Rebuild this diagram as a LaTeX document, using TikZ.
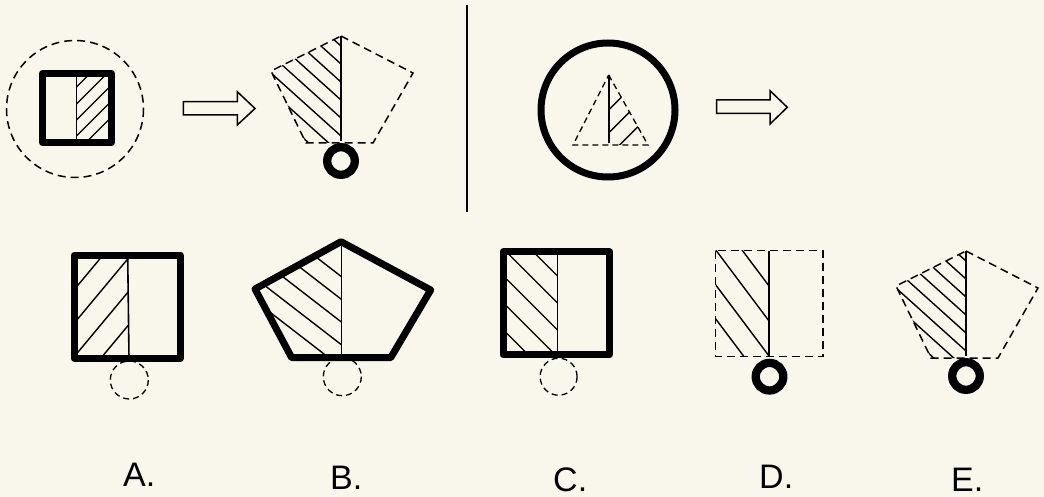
\documentclass[tikz,border=0pt]{standalone}
\usepackage{fontspec}
\setmainfont{Liberation Sans}
\definecolor{paper}{RGB}{249,247,235}
\begin{document}
\begin{tikzpicture}[x=1pt, y=-1pt,
    thickline/.style={line width=7pt, line join=round},
    dashline/.style={line width=1.5pt, dash pattern=on 8pt off 5pt},
    smalldash/.style={line width=1.3pt, dash pattern=on 6pt off 4pt},
    hatch/.style={line width=1.4pt},
    midline/.style={line width=1.6pt},
    ring/.style={line width=8.3pt},
    blockarrow/.style={line width=1.5pt, line join=miter},
    lbl/.style={anchor=base west, inner sep=0pt, text depth=0pt, font=\fontsize{34}{40}\selectfont}]

  % background
  \fill[paper] (0,0) rectangle (1044,497);
  \useasboundingbox (0,0) rectangle (1044,497);

  % top left: square in dashed circle
  \draw[dashline] (75,109) circle (68.5);
  \begin{scope}
    \clip (76.5,73.5) rectangle (111.5,142.5);
    \foreach \c in {87,104,120,136,152}
      \draw[hatch] (76.5,\c) -- ++(45,-45);
  \end{scope}
  \draw[midline] (76.5,73.5) -- (76.5,142.5);
  \draw[thickline] (42.5,73.5) rectangle (111.5,142.5);

  % first arrow
  \draw[blockarrow] (183.3,101.7) -- (237.3,101.7) -- (237.3,91.7) -- (255,108.5)
    -- (237.3,125) -- (237.3,115) -- (183.3,115) -- cycle;

  % top middle: dashed pentagon with ring
  \begin{scope}
    \clip (341,36) -- (271,71) -- (306,143) -- (341,143) -- cycle;
    \foreach \c in {46,64,...,172}
      \draw[hatch] (341,\c) -- ++(-120,-108);
  \end{scope}
  \draw[dashline] (341,36) -- (413,73) -- (373,143) -- (306,143) -- (271,71) -- cycle;
  \draw[midline] (341,36) -- (341,141);
  \draw[ring] (341,161) circle (13.8);

  % separator
  \draw[line width=2pt] (467,5) -- (467,212);

  % top right: triangle in thick circle
  \draw[thickline] (608,110) circle (67);
  \begin{scope}
    \clip (608.7,75) -- (648,145) -- (608.7,145) -- cycle;
    \foreach \c in {110,133,156}
      \draw[hatch] (608.7,\c) -- ++(45,-45);
  \end{scope}
  \draw[smalldash] (608.7,75) -- (648,145) -- (573,145) -- cycle;
  \draw[midline] (608.7,75) -- (608.7,143.5);

  % second arrow
  \draw[blockarrow] (716.7,100) -- (770,100) -- (770,90.7) -- (787.3,107.3)
    -- (770,124) -- (770,113.3) -- (716.7,113.3) -- cycle;

  % option A
  \begin{scope}
    \clip (74.2,255.2) rectangle (128.5,358.2);
    \foreach \c in {286.7,320.2,353.7,387.2}
      \draw[hatch] (76.7,\c) -- ++(60,-72);
  \end{scope}
  \draw[midline] (127.7,255.2) -- (129,358.2);
  \draw[thickline] (74.2,255.2) rectangle (180.5,358.2);
  \draw[smalldash] (129.3,380) circle (19);

  % option B
  \begin{scope}
    \clip (341.5,241.7) -- (255,289) -- (291.7,357.7) -- (341.5,357.7) -- cycle;
    \foreach \c in {276.7,299.4,322.1,344.8,367.5}
      \draw[hatch] (341.5,\c) -- ++(-110,-85);
  \end{scope}
  \draw[midline] (341.5,241.7) -- (341.5,357.7);
  \draw[thickline] (341,241.7) -- (430.7,290) -- (390.7,357.7) -- (291.7,357.7) -- (255,289) -- cycle;
  \draw[smalldash] (342.3,376.7) circle (19);

  % option C
  \begin{scope}
    \clip (503,251.8) rectangle (557.5,354.8);
    \foreach \c in {276,303,330,357,384}
      \draw[hatch] (557.5,\c) -- ++(-80,-80);
  \end{scope}
  \draw[midline] (557.5,251.8) -- (557.5,354.8);
  \draw[thickline] (503,251.8) rectangle (609.5,354.8);
  \draw[smalldash] (558.6,376.7) circle (18.5);

  % option D
  \begin{scope}
    \clip (715.7,250.7) rectangle (769,356.7);
    \foreach \c in {286,321,356,390}
      \draw[hatch] (769,\c) -- ++(-75,-100);
  \end{scope}
  \draw[dashline] (715.7,250.7) rectangle (822.9,356.7);
  \draw[midline] (769,250.7) -- (769,356.7);
  \draw[ring] (769.5,376.7) circle (13.8);

  % option E (same figure as top middle)
  \begin{scope}[shift={(625,215)}]
    \begin{scope}
      \clip (341,36) -- (271,71) -- (306,143) -- (341,143) -- cycle;
      \foreach \c in {46,64,...,172}
        \draw[hatch] (341,\c) -- ++(-120,-108);
    \end{scope}
    \draw[dashline] (341,36) -- (413,73) -- (373,143) -- (306,143) -- (271,71) -- cycle;
    \draw[midline] (341,36) -- (341,141);
    \draw[ring] (341,161) circle (13.8);
  \end{scope}

  % labels
  \node[lbl] (labA) at (123,486) {A.};
  \node[lbl] (labB) at (330,489.5) {B.};
  \node[lbl] (labC) at (553,491) {C.};
  \node[lbl] (labD) at (759,488) {D.};
  \node[lbl] (labE) at (951,491) {E.};

\end{tikzpicture}
\end{document}
